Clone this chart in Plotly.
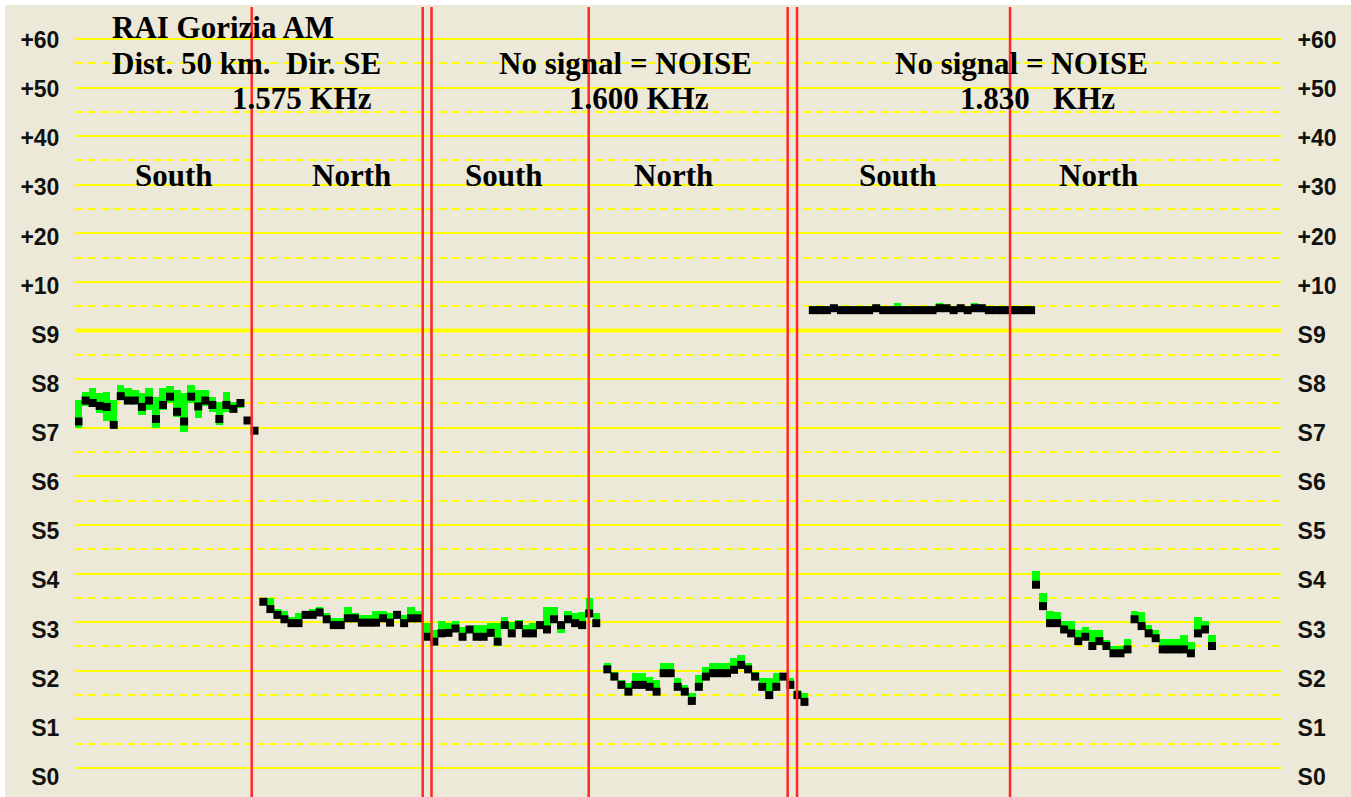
import plotly.graph_objects as go

# ---------------- scale (one unit per S-step / per 10 dB) ----------------
tick_vals = list(range(16))
tick_text = ["S0", "S1", "S2", "S3", "S4", "S5", "S6", "S7", "S8", "S9",
             "+10", "+20", "+30", "+40", "+50", "+60"]
minor_vals = [v + 0.5 for v in range(15)]

# ---------------- readings (sample index, S-meter units) ----------------
# 1.575 KHz  South
seg1_start = 0
seg1_val = [7.13, 7.56, 7.51, 7.45, 7.43, 7.06, 7.65, 7.56, 7.56, 7.43, 7.56, 7.18, 7.47,
            7.64, 7.33, 7.13, 7.64, 7.44, 7.56, 7.47, 7.18, 7.47, 7.39, 7.51, 7.15, 6.94]
seg1_high = [7.57, 7.74, 7.81, 7.71, 7.74, 7.57, 7.88, 7.81, 7.78, 7.71, 7.81, 7.64, 7.81,
             7.85, 7.78, 7.71, 7.88, 7.78, 7.78, 7.64, 7.54, 7.74, 7.54, 7.54, 7.23, 6.94]
seg1_low = [6.99, 7.44, 7.50, 7.30, 7.13, 6.99, 7.57, 7.50, 7.50, 7.26, 7.37, 6.99, 7.37,
            7.50, 7.23, 6.92, 7.50, 7.20, 7.44, 7.33, 7.06, 7.33, 7.30, 7.40, 7.09, 6.94]

# 1.575 KHz  North
seg2_start = 26.25
seg2_val = [3.42, 3.27, 3.15, 3.06, 2.98, 2.98, 3.15, 3.15, 3.20, 3.06, 2.94, 2.94,
            3.08, 3.08, 2.99, 2.99, 2.99, 3.08, 2.99, 3.15, 2.98, 3.08, 3.08]
seg2_high = [3.42, 3.49, 3.27, 3.22, 3.11, 3.18, 3.20, 3.27, 3.32, 3.18, 3.08, 3.08,
             3.32, 3.18, 3.15, 3.15, 3.24, 3.24, 3.18, 3.24, 3.15, 3.32, 3.24]
seg2_low = [3.40, 3.25, 3.12, 3.03, 2.95, 2.95, 3.12, 3.12, 3.17, 3.03, 2.91, 2.91,
            3.05, 3.05, 2.96, 2.96, 2.96, 3.05, 2.96, 3.12, 2.95, 3.05, 3.05]

# 1.600 KHz  South
seg3_start = 49.54
seg3_val = [2.70, 2.60, 2.77, 2.78, 2.87, 2.70, 2.85, 2.70, 2.70, 2.78, 2.60, 2.94, 2.77,
            2.94, 2.77, 2.77, 2.94, 2.85, 3.06, 2.94, 3.06, 2.98, 2.94, 3.18, 2.98]
seg3_high = [2.98, 2.84, 3.03, 2.98, 3.03, 2.91, 2.91, 2.94, 2.94, 2.98, 2.98, 3.11, 3.01,
             3.04, 2.94, 2.98, 3.01, 3.32, 3.32, 3.01, 3.22, 3.18, 3.20, 3.49, 3.18]
seg3_low = [2.67, 2.56, 2.70, 2.74, 2.84, 2.65, 2.80, 2.63, 2.63, 2.74, 2.50, 2.91, 2.74,
            2.91, 2.74, 2.74, 2.91, 2.80, 3.01, 2.77, 3.01, 2.94, 2.91, 3.11, 2.94]

# 1.600 KHz  North
seg4_start = 75.11
seg4_val = [2.03, 1.88, 1.71, 1.57, 1.71, 1.71, 1.67, 1.57, 1.95, 1.95, 1.67, 1.57, 1.38,
            1.67, 1.88, 1.95, 1.95, 1.95, 2.02, 2.12, 2.03, 1.88, 1.67, 1.50, 1.67, 1.88,
            1.71, 1.50, 1.36]
seg4_high = [2.15, 1.98, 1.81, 1.74, 1.95, 1.95, 1.88, 1.81, 2.15, 2.15, 1.85, 1.71, 1.54,
             1.91, 2.08, 2.15, 2.15, 2.17, 2.26, 2.33, 2.15, 1.98, 1.85, 1.85, 1.95, 1.95,
             1.85, 1.60, 1.54]
seg4_low = [2.00, 1.85, 1.68, 1.54, 1.68, 1.68, 1.64, 1.54, 1.92, 1.92, 1.64, 1.54, 1.35,
            1.64, 1.85, 1.92, 1.92, 1.92, 1.99, 2.09, 2.00, 1.85, 1.64, 1.47, 1.64, 1.85,
            1.68, 1.47, 1.33]

# 1.830 KHz  South
seg5_start = 104.3
seg5_val = [9.42, 9.42, 9.42, 9.46, 9.42, 9.42, 9.42, 9.42, 9.42, 9.46, 9.42, 9.42, 9.42,
            9.42, 9.42, 9.42, 9.42, 9.42, 9.46, 9.46, 9.42, 9.46, 9.42, 9.46, 9.46, 9.42,
            9.42, 9.42, 9.42, 9.42, 9.42, 9.42]
seg5_high = [9.51, 9.51, 9.51, 9.51, 9.51, 9.51, 9.51, 9.51, 9.51, 9.51, 9.51, 9.51, 9.56,
             9.51, 9.51, 9.51, 9.51, 9.51, 9.56, 9.51, 9.51, 9.51, 9.51, 9.56, 9.51, 9.51,
             9.51, 9.51, 9.51, 9.51, 9.51, 9.51]
seg5_low = [9.42, 9.42, 9.42, 9.46, 9.42, 9.42, 9.42, 9.42, 9.42, 9.46, 9.42, 9.42, 9.42,
            9.42, 9.42, 9.42, 9.42, 9.42, 9.46, 9.46, 9.42, 9.46, 9.42, 9.46, 9.46, 9.42,
            9.42, 9.42, 9.42, 9.42, 9.42, 9.42]

# 1.830 KHz  North
seg6_start = 136.0
seg6_val = [3.77, 3.33, 2.98, 2.98, 2.85, 2.77, 2.61, 2.70, 2.51, 2.61, 2.51, 2.36, 2.36,
            2.44, 3.06, 2.92, 2.77, 2.67, 2.44, 2.44, 2.44, 2.44, 2.36, 2.77, 2.85, 2.51]
seg6_high = [4.06, 3.61, 3.24, 3.20, 3.03, 3.03, 2.83, 2.91, 2.83, 2.83, 2.63, 2.51, 2.51,
             2.65, 3.24, 3.20, 2.94, 2.83, 2.65, 2.65, 2.65, 2.74, 2.60, 3.10, 3.03, 2.74]
seg6_low = [3.74, 3.30, 2.95, 2.95, 2.82, 2.74, 2.58, 2.67, 2.48, 2.58, 2.48, 2.33, 2.33,
            2.41, 3.03, 2.89, 2.74, 2.64, 2.41, 2.41, 2.41, 2.41, 2.33, 2.74, 2.82, 2.48]

# antenna / frequency change markers (sample index)
red_lines = [24.6, 48.89, 50.14, 72.47, 100.73, 102.06, 132.31]

# ---------------- assemble ----------------
segments = [
    (seg1_start, seg1_val, seg1_high, seg1_low),
    (seg2_start, seg2_val, seg2_high, seg2_low),
    (seg3_start, seg3_val, seg3_high, seg3_low),
    (seg4_start, seg4_val, seg4_high, seg4_low),
    (seg5_start, seg5_val, seg5_high, seg5_low),
    (seg6_start, seg6_val, seg6_high, seg6_low),
]
xs, vals, highs, lows = [], [], [], []
for start, v, h, l in segments:
    for i in range(len(v)):
        xs.append(start + i)
        vals.append(v[i])
        highs.append(h[i])
        lows.append(l[i])

BG = "#ECE9D8"
YEL = "#FFFF00"
W, H = 1351, 797
ML, MR = 75, 70
Y_RANGE = [-0.597, 15.802]      # grid axis
LBL_RANGE = [-0.408, 15.814]    # tick-label axes
X_RANGE = [-0.5, 170.8]

fig = go.Figure()

# green min/max bars
fig.add_trace(go.Bar(
    x=xs, base=lows, y=[h - l for h, l in zip(highs, lows)],
    width=1.05, marker=dict(color="#00FF00", line=dict(width=0)),
    hoverinfo="skip", showlegend=False))

# black current-value squares
fig.add_trace(go.Scatter(
    x=xs, y=vals, mode="markers",
    marker=dict(symbol="square", size=8, color="#000000", line=dict(width=0)),
    hoverinfo="skip", showlegend=False))

# dummy traces for the label axes
fig.add_trace(go.Scatter(x=[None], y=[None], yaxis="y2", showlegend=False, hoverinfo="skip"))
fig.add_trace(go.Scatter(x=[None], y=[None], yaxis="y3", showlegend=False, hoverinfo="skip"))

shapes = []
# page background with thin white frame
shapes.append(dict(type="rect", xref="paper", yref="paper",
                   x0=(5 - ML) / (W - ML - MR), x1=(W - ML) / (W - ML - MR),
                   y0=0, y1=1 - 5 / H, fillcolor=BG, line=dict(width=0), layer="below"))
# thick S9 line
shapes.append(dict(type="line", xref="paper", yref="y", x0=0, x1=1, y0=9, y1=9,
                   line=dict(color=YEL, width=4), layer="between"))
for rl in red_lines:
    shapes.append(dict(type="line", xref="x", yref="paper", x0=rl, x1=rl,
                       y0=0, y1=1 - 7 / H, line=dict(color="#FF2828", width=2.5),
                       layer="above"))

NB = "\u00a0"
texts = [
    ("RAI Gorizia AM", 110, 28),
    ("Dist. 50 km." + NB + NB + "Dir. SE", 110, 64),
    ("1.575 KHz", 230, 99),
    ("South", 133, 175),
    ("North", 310, 175),
    ("No signal = NOISE", 497, 64),
    ("1.600 KHz", 567, 99),
    ("South", 463, 175),
    ("North", 632, 175),
    ("No signal = NOISE", 893, 64),
    ("1.830" + NB + NB + NB + "KHz", 958, 99),
    ("South", 857, 175),
    ("North", 1057, 175),
]
annotations = []
for t, px, py in texts:
    annotations.append(dict(
        text=t, xref="paper", yref="paper",
        x=(px - ML) / (W - ML - MR), y=1 - py / H,
        xanchor="left", yanchor="middle", showarrow=False,
        font=dict(family="Liberation Serif, Times New Roman, serif", size=31,
                  color="#000000", weight="bold")))

tickfont = dict(family="Liberation Sans, Arial, sans-serif", size=23,
                color="#111111", weight="bold")

fig.update_layout(
    width=W, height=H,
    margin=dict(l=ML, r=MR, t=0, b=0, pad=0),
    paper_bgcolor="#FFFFFF",
    plot_bgcolor="rgba(0,0,0,0)",
    hovermode=False,
    showlegend=False,
    bargap=0,
    shapes=shapes,
    annotations=annotations,
    xaxis=dict(range=X_RANGE, showgrid=False, zeroline=False, showticklabels=False,
               ticks="", showline=False, fixedrange=True),
    yaxis=dict(range=Y_RANGE, tickmode="array", tickvals=tick_vals,
               showticklabels=False, ticks="", zeroline=False, showline=False,
               showgrid=True, gridcolor=YEL, gridwidth=2,
               minor=dict(tickmode="array", tickvals=minor_vals, showgrid=True,
                          gridcolor=YEL, gridwidth=2, griddash="8px,5px", ticks=""),
               fixedrange=True),
    yaxis2=dict(range=LBL_RANGE, overlaying="y", side="left", anchor="x",
                tickmode="array", tickvals=tick_vals, ticktext=tick_text,
                showgrid=False, zeroline=False, showline=False,
                ticks="outside", ticklen=10, tickcolor="rgba(0,0,0,0)",
                tickfont=tickfont, fixedrange=True),
    yaxis3=dict(range=LBL_RANGE, overlaying="y", side="right", anchor="x",
                tickmode="array", tickvals=tick_vals, ticktext=tick_text,
                showgrid=False, zeroline=False, showline=False,
                ticks="outside", ticklen=11, tickcolor="rgba(0,0,0,0)",
                tickfont=tickfont, fixedrange=True),
)

fig.write_html("out.html", config={"displayModeBar": False},
               post_script="document.body.style.margin='0';document.body.style.overflow='hidden';")
